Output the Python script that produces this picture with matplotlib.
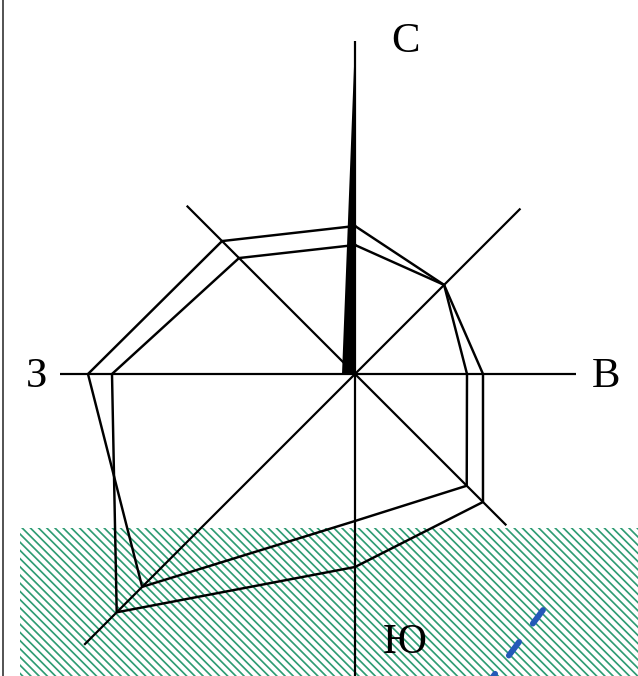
#!/usr/bin/env python3
"""Wind rose: two seasonal polygons, prevailing-wind arrow, hatched zone."""

import numpy as np
import matplotlib
matplotlib.use('Agg')
import matplotlib.pyplot as plt
from matplotlib.patches import Rectangle
from matplotlib.collections import LineCollection

DPI = 88
W_PX, H_PX = 638, 676

# rhumbs, clockwise from north
DIRECTIONS = ["N", "NE", "E", "SE", "S", "SW", "W", "NW"]
ANGLES_DEG = [0, 45, 90, 135, 180, 225, 270, 315]

# rose values per rhumb (drawing units)
ROSE_A = [14.8, 12.6, 11.2, 15.8, 14.7, 30.1, 26.7, 18.8]
ROSE_B = [12.9, 12.6, 12.8, 18.1, 19.3, 33.7, 24.3, 16.4]

# length of the rhumb lines
AXIS_LEN = [33.3, 23.4, 22.1, 21.4, 32.0, 38.3, 29.5, 23.8]

# prevailing wind arrow
ARROW_LEN = 33.3
ARROW_BASE = 1.35

# compass letters
LABEL_TEXT = ["С", "В", "Ю", "З"]


def polar_xy(r, ang_deg):
    a = np.radians(np.asarray(ang_deg, dtype=float))
    r = np.asarray(r, dtype=float)
    return r * np.sin(a), r * np.cos(a)


def main():
    plt.rcParams.update({
        "font.family": ["Liberation Serif", "DejaVu Serif"],
    })

    fig = plt.figure(figsize=(W_PX / DPI, H_PX / DPI), dpi=DPI)
    ax = fig.add_axes([0, 0, 1, 1])
    ax.set_xlim(-35.5, 28.3)
    ax.set_ylim(-30.2, 37.4)
    ax.axis("off")

    # hatched zone at the bottom (diagonal lines clipped to a box)
    zone = Rectangle((-33.5, -32), 64, 16.6, facecolor="white",
                     edgecolor="none", zorder=0)
    ax.add_patch(zone)
    step = 0.82
    segs = []
    for c in np.arange(-70, 20, step):
        # line y = -x + c
        segs.append([(-40, 40 + c), (40, -40 + c)])
    hatch = LineCollection(segs, colors="#2f9c74", linewidths=1.4,
                           zorder=0.5)
    ax.add_collection(hatch)
    hatch.set_clip_path(zone)

    # left frame edge
    ax.plot([-35.2, -35.2], [-31, 38], color="#3a3a3a", linewidth=1.4,
            zorder=1)

    # rhumb lines
    ex, ey = polar_xy(AXIS_LEN, ANGLES_DEG)
    for x, y in zip(ex, ey):
        ax.plot([0, x], [0, y], color="black", linewidth=1.8,
                solid_capstyle="butt", zorder=2)

    # rose polygons
    for vals in (ROSE_A, ROSE_B):
        px, py = polar_xy(vals, ANGLES_DEG)
        ax.plot(np.append(px, px[0]), np.append(py, py[0]), color="black",
                linewidth=2.0, solid_joinstyle="miter", zorder=3)

    # prevailing wind arrow
    ax.fill([-ARROW_BASE, 0, 0], [0, 0, ARROW_LEN], color="black",
            linewidth=0, zorder=4)

    # blue dashed line
    ax.plot([18.8, 12.8], [-23.6, -31.6], color="#2459b8", linewidth=4.8,
            dashes=(2.9, 3.9), dash_capstyle="round", zorder=3)

    # compass letters
    label_pos = [(5.0, 32.2), (25.1, -1.3), (5.0, -27.9), (-31.8, -1.3)]
    for txt, (x, y) in zip(LABEL_TEXT, label_pos):
        ax.text(x, y, txt, fontsize=35, ha="center", va="baseline",
                zorder=5)

    fig.savefig("out.png", dpi=DPI)
    plt.close(fig)


if __name__ == "__main__":
    main()
